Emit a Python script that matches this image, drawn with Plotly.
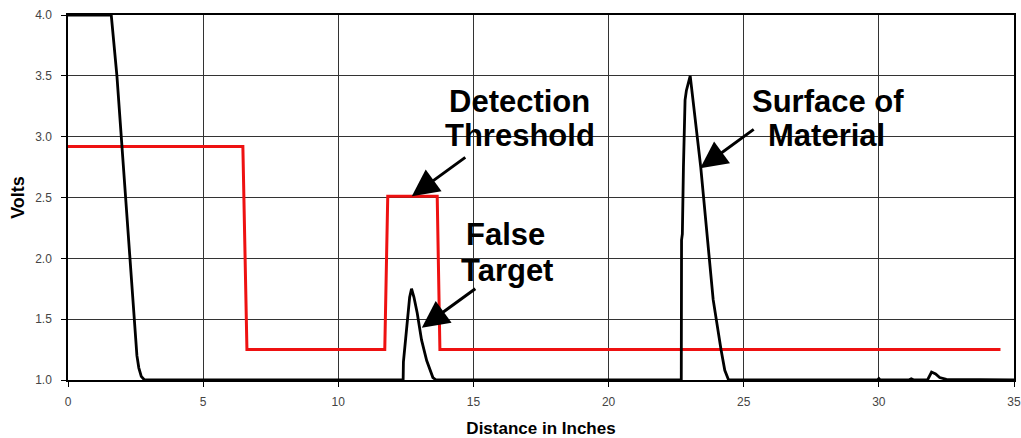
import plotly.graph_objects as go

# ---- data ----
signal_x = [0, 1.6, 1.81, 1.97, 2.13, 2.28, 2.43, 2.55, 2.62, 2.71, 2.83,
            12.40, 12.41, 12.53, 12.64, 12.71, 12.80, 12.92, 13.08, 13.27, 13.50, 13.62,
            22.69, 22.70, 22.73, 22.77, 22.83, 22.88, 23.02, 23.41, 23.76, 23.87, 24.16, 24.30, 24.44,
            29.95, 30.0, 30.05, 31.1, 31.2, 31.3, 31.8, 31.95, 32.1, 32.25, 32.5, 35.0]
signal_y = [4.0, 4.0, 3.5, 3.0, 2.5, 2.0, 1.5, 1.2, 1.1, 1.03, 1.0,
            1.0, 1.15, 1.41, 1.68, 1.75, 1.68, 1.55, 1.33, 1.16, 1.02, 1.0,
            1.0, 2.15, 2.2, 2.75, 3.3, 3.38, 3.5, 2.75, 1.96, 1.66, 1.25, 1.08, 1.0,
            1.0, 1.012, 1.0, 1.0, 1.01, 1.0, 1.0, 1.065, 1.05, 1.02, 1.005, 1.0]

threshold_x = [0, 6.47, 6.62, 11.72, 11.83, 13.66, 13.76, 34.5]
threshold_y = [2.92, 2.92, 1.25, 1.25, 2.51, 2.51, 1.25, 1.25]

x_ticks = [0, 5, 10, 15, 20, 25, 30, 35]
y_ticks = [1.0, 1.5, 2.0, 2.5, 3.0, 3.5, 4.0]
y_tick_text = ["1.0", "1.5", "2.0", "2.5", "3.0", "3.5", "4.0"]

# label lines: (text, x, y)
labels = [
    ("Detection", 16.69, 3.29),
    ("Threshold", 16.74, 3.01),
    ("False", 16.17, 2.20),
    ("Target", 16.24, 1.90),
    ("Surface of", 28.13, 3.29),
    ("Material", 28.06, 3.01),
]
# arrow tips (data coords)
arrow_tips = [(12.72, 2.51), (13.09, 1.43), (23.39, 2.74)]

fig = go.Figure()
fig.add_trace(go.Scatter(x=threshold_x, y=threshold_y, mode="lines",
                         line=dict(color="#ee1111", width=3), hoverinfo="skip"))
fig.add_trace(go.Scatter(x=signal_x, y=signal_y, mode="lines",
                         line=dict(color="black", width=2.8), hoverinfo="skip"))

annotations = []
for t, x, y in labels:
    annotations.append(dict(x=x, y=y, xref="x", yref="y", text="<b>" + t + "</b>", showarrow=False,
                            font=dict(family="Liberation Sans, Arial", size=31, color="black"),
                            xanchor="center", yanchor="middle"))
for x, y in arrow_tips:
    annotations.append(dict(x=x, y=y, xref="x", yref="y", text="", showarrow=True,
                            ax=55, ay=-40, arrowhead=2, arrowsize=1.8, arrowwidth=3,
                            arrowcolor="black", standoff=0, startstandoff=0))

fig.update_layout(
    width=1021, height=438,
    margin=dict(l=68, r=7, t=15, b=58, autoexpand=False),
    paper_bgcolor="white", plot_bgcolor="white",
    showlegend=False,
    annotations=annotations,
    font=dict(family="Liberation Sans, Arial", color="#333"),
)
fig.update_xaxes(range=[0, 35], tickvals=x_ticks, showgrid=True, gridcolor="#333", gridwidth=1,
                 showline=True, linecolor="black", linewidth=1.5, mirror=True, automargin=False,
                 ticks="outside", ticklen=5, tickcolor="black", zeroline=False, ticklabelstandoff=5,
                 tickfont=dict(size=12, color="#444"),
                 title=dict(text="<b>Distance in Inches</b>", font=dict(size=17, color="black"), standoff=14))
fig.update_yaxes(range=[1, 4], tickvals=y_ticks, ticktext=y_tick_text, showgrid=True, gridcolor="#333",
                 gridwidth=1, showline=True, linecolor="black", linewidth=1.5, mirror=True, automargin=False,
                 ticks="outside", ticklen=5, tickcolor="black", zeroline=False, ticklabelstandoff=7,
                 tickfont=dict(size=12, color="#444"),
                 title=dict(text="<b>Volts</b>", font=dict(size=18, color="black"), standoff=6))

fig.write_html("out.html", post_script="document.body.style.margin='0';",
               config={"displayModeBar": False})
